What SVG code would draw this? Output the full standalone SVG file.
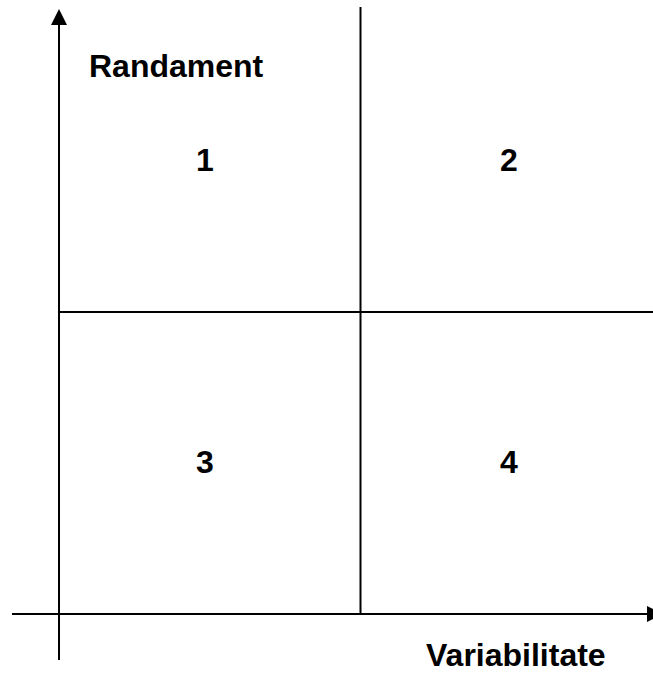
<svg xmlns="http://www.w3.org/2000/svg" width="653" height="673" viewBox="0 0 653 673">
<style>
.ln{stroke:#000;stroke-width:2;fill:none}
.ah{fill:#000}
.t{font-family:"Liberation Sans",Arial,sans-serif;font-weight:bold;font-size:32px;fill:#000}
</style>
<rect width="653" height="673" fill="#fff"/>
<g id="connectors">
<line class="ln" x1="59" y1="24" x2="59" y2="660"/>
<polygon class="ah" points="59,9 51,25 67,25"/>
<line class="ln" x1="12" y1="614" x2="648" y2="614"/>
<polygon class="ah" points="663,614 647,606 647,622"/>
<line class="ln" x1="360.5" y1="7" x2="360.5" y2="614"/>
<line class="ln" x1="59" y1="312" x2="653" y2="312"/>
</g>
<g id="label-y"><text class="t" x="89" y="77">Randament</text></g>
<g id="label-x"><text class="t" x="426" y="666">Variabilitate</text></g>
<g id="q1"><text class="t" x="196" y="171">1</text></g>
<g id="q2"><text class="t" x="500" y="171">2</text></g>
<g id="q3"><text class="t" x="196" y="473">3</text></g>
<g id="q4"><text class="t" x="500" y="473">4</text></g>
</svg>
